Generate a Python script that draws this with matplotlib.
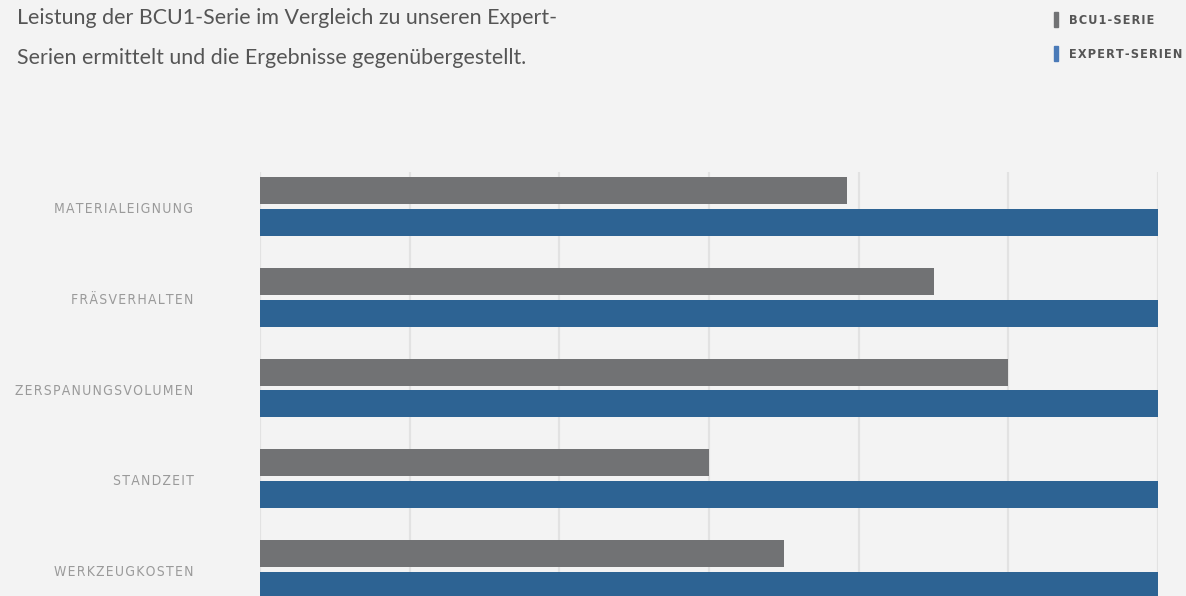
import matplotlib
matplotlib.use("Agg")
import matplotlib.pyplot as plt
import numpy as np

categories = ["MATERIALEIGNUNG", "FRÄSVERHALTEN", "ZERSPANUNGSVOLUMEN", "STANDZEIT", "WERKZEUGKOSTEN"]
bcu1_values = [3.92, 4.5, 5.0, 3.0, 3.5]
expert_values = [6.0, 6.0, 6.0, 6.0, 6.0]
series_names = ["BCU1-SERIE", "EXPERT-SERIEN"]
title_lines = ["Leistung der BCU1-Serie im Vergleich zu unseren Expert-",
               "Serien ermittelt und die Ergebnisse gegenübergestellt."]

W, H = 1186, 596
bg = "#f3f3f3"
gray = "#717274"
blue = "#2d6393"

fig = plt.figure(figsize=(W / 100, H / 100), dpi=100, facecolor=bg)

def px(x, y):
    return x / W, 1 - y / H

ax_left, ax_right = 260, 1158
ax_top, ax_bot = 172, 604
ax = fig.add_axes([ax_left / W, 1 - ax_bot / H, (ax_right - ax_left) / W, (ax_bot - ax_top) / H])
ax.set_facecolor(bg)

n = len(categories)
y = np.arange(n)
bh = 27 / 91
off = 16 / 91
ax.barh(y - off, bcu1_values, height=bh, color=gray, zorder=3)
ax.barh(y + off, expert_values, height=bh, color=blue, zorder=3)
ax.set_xlim(0, 6)
ax.set_ylim(n - 1 + 0.38, -0.38)
ax.set_xticks(np.arange(0, 7, 1))
ax.grid(axis="x", color="#e2e2e2", linewidth=1.6, zorder=0)
ax.tick_params(length=0, labelbottom=False, labelleft=False)
for s in ax.spines.values():
    s.set_visible(False)

def spaced(s, sep="\u200a"):
    return sep.join(list(s))

for i, c in enumerate(categories):
    ax.text(-0.445, i + 0.03, spaced(c), ha="right", va="center", fontsize=10.0,
            color="#9a9a9a", family="DejaVu Sans", fontstretch="condensed")

fig.text(*px(17, 18), title_lines[0], ha="left", va="center", fontsize=15.4, color="#555555", family="Lato")
fig.text(*px(17, 58), title_lines[1], ha="left", va="center", fontsize=15.4, color="#555555", family="Lato")

leg_cols = [gray, "#4a7ab8"]
for k, (name, col) in enumerate(zip(series_names, leg_cols)):
    yy = 20 + 34 * k
    fig.patches.append(plt.Rectangle(px(1054, yy + 7), 4 / W, 15 / H, transform=fig.transFigure,
                                     color=col, figure=fig))
    fig.text(*px(1069, yy), spaced(name), ha="left", va="center", fontsize=9.1,
             color="#555555", fontweight="bold", family="DejaVu Sans", fontstretch="condensed")

fig.savefig("out.png", dpi=100, facecolor=bg)
